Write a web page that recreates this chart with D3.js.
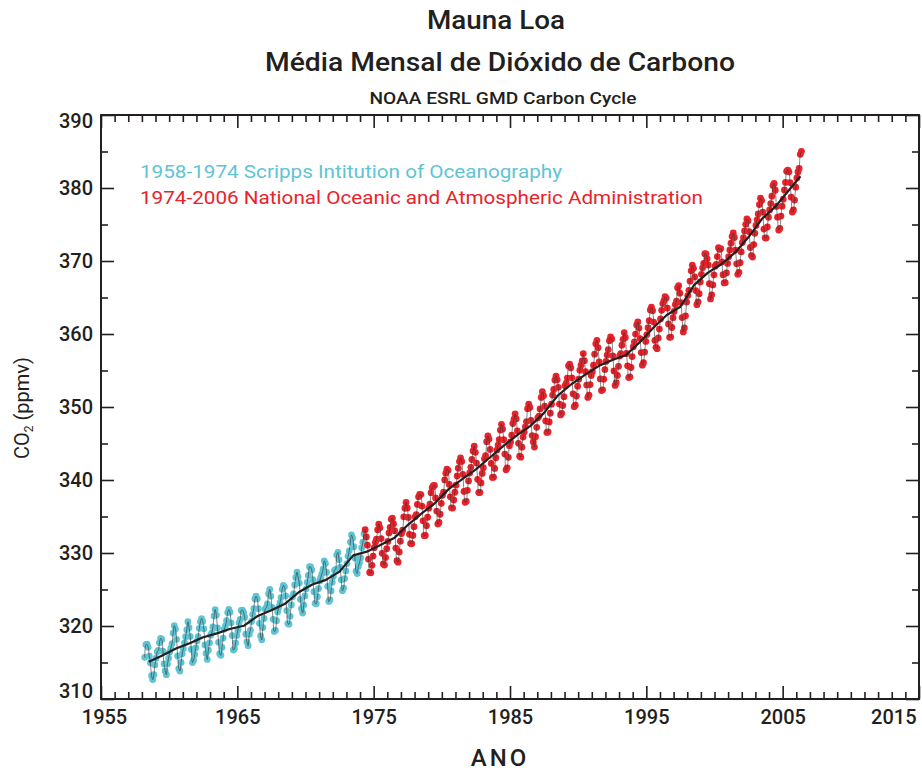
<!DOCTYPE html>
<html>
<head>
<meta charset="utf-8">
<script src="https://cdn.jsdelivr.net/npm/d3@7/dist/d3.min.js"></script>
<style>
  body { margin: 0; background: #fff; }
  svg { display: block; }
  text { font-family: Roboto, "DejaVu Sans", sans-serif; font-weight: 500; fill: #231f20; }
</style>
</head>
<body>
<svg id="chart" width="922" height="771"></svg>
<script>
// Monthly mean CO2 at Mauna Loa (ppmv)
// Scripps record: March 1958 – April 1974
const scrippsStart = [1958, 3];
const scrippsCO2 = [
  315.71, 317.45, 317.50, 317.10, 315.86, 314.93, 313.20, 312.66, 313.33, 314.67,
  315.58, 316.48, 316.65, 317.72, 318.29, 318.15, 316.54, 314.80, 313.84, 313.33, 314.81, 315.58,
  316.43, 316.98, 317.58, 319.03, 320.04, 319.58, 318.18, 315.90, 314.17, 313.83, 315.00, 316.19,
  316.89, 317.70, 318.54, 319.48, 320.58, 319.77, 318.57, 316.79, 314.99, 315.31, 316.10, 317.01,
  317.94, 318.55, 319.68, 320.57, 321.02, 320.62, 319.61, 317.40, 316.25, 315.42, 316.69, 317.70,
  318.74, 319.07, 319.86, 321.38, 322.25, 321.48, 319.74, 317.77, 316.21, 315.99, 317.07, 318.35,
  319.57, 320.01, 320.74, 321.84, 322.26, 321.89, 320.44, 318.69, 316.70, 316.87, 317.68, 318.71,
  319.44, 320.44, 320.89, 322.14, 322.17, 321.87, 321.21, 318.87, 317.81, 317.30, 318.87, 319.42,
  320.62, 321.60, 322.39, 323.70, 324.08, 323.75, 322.38, 320.36, 318.64, 318.10, 319.78, 321.03,
  322.33, 322.50, 323.04, 324.42, 325.00, 324.09, 322.54, 320.92, 319.25, 319.39, 320.73, 321.96,
  322.57, 323.15, 323.89, 325.02, 325.57, 325.36, 324.14, 322.11, 320.33, 320.25, 321.32, 322.89,
  324.00, 324.41, 325.63, 326.66, 327.38, 326.71, 325.88, 323.66, 322.38, 321.78, 322.86, 324.12,
  325.06, 325.98, 326.93, 328.13, 328.08, 327.67, 326.34, 324.69, 323.10, 323.06, 324.01, 325.13,
  326.17, 326.68, 327.17, 327.79, 328.93, 328.57, 327.36, 325.43, 323.36, 323.56, 324.80, 326.01,
  326.77, 327.63, 327.75, 329.72, 330.07, 329.09, 328.04, 326.32, 324.84, 325.20, 326.50, 327.55,
  328.55, 329.56, 330.30, 331.50, 332.48, 332.07, 330.87, 329.31, 327.51, 327.18, 328.16, 328.64,
  329.35, 330.71, 331.48, 332.65
];

// NOAA record: May 1974 – May 2006
const noaaStart = [1974, 5];
const noaaCO2 = [
  333.19, 332.20, 331.07, 329.15, 327.33, 327.28, 328.31, 329.58,
  330.73, 331.46, 331.90, 333.17, 333.94, 333.45, 331.98, 329.95, 328.50, 328.34, 329.37, 330.58,
  331.59, 332.75, 333.52, 334.64, 334.77, 334.00, 333.06, 330.68, 328.95, 328.75, 330.15, 331.62,
  332.66, 333.13, 334.95, 336.13, 336.93, 336.17, 334.88, 332.56, 331.29, 331.27, 332.41, 333.60,
  334.95, 335.25, 336.66, 337.69, 338.03, 338.01, 336.41, 334.41, 332.37, 332.41, 333.75, 334.90,
  336.14, 336.69, 338.27, 338.96, 339.21, 339.26, 337.54, 335.75, 333.98, 334.19, 335.31, 336.81,
  337.90, 338.34, 340.01, 340.93, 341.48, 341.33, 339.40, 337.70, 336.19, 336.15, 337.27, 338.32,
  339.29, 340.55, 341.61, 342.53, 343.03, 342.54, 340.78, 338.44, 336.95, 337.08, 338.58, 339.88,
  340.96, 341.73, 342.81, 343.97, 344.63, 343.79, 342.32, 340.09, 338.28, 338.29, 339.60, 340.90,
  341.68, 342.90, 343.33, 345.25, 346.03, 345.63, 344.19, 342.27, 340.35, 340.38, 341.59, 343.05,
  344.10, 344.79, 345.52, 346.84, 347.63, 346.98, 345.53, 343.55, 341.40, 341.67, 343.10, 344.70,
  345.21, 346.16, 347.74, 348.34, 349.06, 348.38, 346.72, 345.02, 343.27, 343.13, 344.49, 345.88,
  346.56, 347.28, 348.01, 349.77, 350.38, 349.93, 348.16, 346.08, 345.22, 344.51, 345.93, 347.21,
  348.52, 348.73, 349.73, 351.31, 352.09, 351.53, 350.11, 348.08, 346.52, 346.59, 347.96, 349.16,
  350.39, 351.64, 352.40, 353.69, 354.21, 353.72, 352.69, 350.40, 348.92, 349.13, 350.20, 351.41,
  352.91, 353.27, 353.96, 355.64, 355.86, 355.37, 353.99, 351.81, 350.05, 350.25, 351.49, 352.85,
  353.80, 355.04, 355.73, 356.32, 357.32, 356.34, 354.84, 353.01, 351.31, 351.62, 353.07, 354.33,
  354.84, 355.73, 357.23, 358.66, 359.13, 358.13, 356.19, 353.85, 352.25, 352.35, 353.81, 355.12,
  356.25, 357.11, 357.86, 359.09, 359.59, 359.33, 357.01, 354.94, 352.96, 353.32, 354.32, 355.57,
  357.00, 357.31, 358.47, 359.27, 360.19, 359.52, 357.33, 355.64, 354.03, 354.12, 355.41, 356.91,
  358.24, 358.92, 359.99, 361.23, 361.65, 360.81, 359.38, 357.46, 355.73, 356.07, 357.53, 358.98,
  359.92, 360.86, 361.83, 363.30, 363.69, 363.19, 361.64, 359.12, 358.17, 357.99, 359.45, 360.68,
  362.07, 363.24, 364.17, 364.57, 365.13, 364.92, 363.55, 361.38, 359.54, 359.58, 360.89, 362.24,
  363.09, 364.03, 364.51, 366.35, 366.64, 365.59, 364.31, 362.25, 360.29, 360.82, 362.49, 364.38,
  365.27, 365.98, 367.24, 368.66, 369.42, 368.99, 367.82, 365.95, 364.02, 364.40, 365.52, 367.13,
  368.18, 369.07, 369.68, 370.99, 370.96, 370.30, 369.45, 366.90, 364.81, 365.37, 366.72, 368.10,
  369.29, 369.54, 370.60, 371.82, 371.58, 371.70, 369.86, 368.13, 367.00, 367.03, 368.37, 369.67,
  370.59, 371.51, 372.43, 373.37, 373.85, 373.22, 371.50, 369.61, 368.18, 368.45, 369.76, 371.24,
  372.53, 373.20, 374.12, 375.02, 375.76, 375.52, 374.01, 371.85, 370.75, 370.55, 372.25, 373.79,
  374.88, 375.64, 376.45, 377.73, 378.60, 378.28, 376.70, 374.38, 373.17, 373.14, 374.66, 375.99,
  377.00, 377.87, 378.88, 380.35, 380.62, 379.69, 377.47, 376.01, 374.25, 374.46, 376.16, 377.51,
  378.46, 379.73, 380.77, 382.29, 382.45, 382.21, 380.74, 378.74, 376.70, 377.00, 378.35, 380.11,
  381.38, 382.19, 382.67, 384.61, 385.03
];

// Long-term trend (seasonal cycle removed), one value per year at mid-year
const trendYears = [1958.5, 1959.5, 1960.5, 1961.5, 1962.5, 1963.5, 1964.5, 1965.5, 1966.5, 1967.5,
  1968.5, 1969.5, 1970.5, 1971.5, 1972.5, 1973.5, 1974.5, 1975.5, 1976.5, 1977.5,
  1978.5, 1979.5, 1980.5, 1981.5, 1982.5, 1983.5, 1984.5, 1985.5, 1986.5, 1987.5,
  1988.5, 1989.5, 1990.5, 1991.5, 1992.5, 1993.5, 1994.5, 1995.5, 1996.5, 1997.5,
  1998.5, 1999.5, 2000.5, 2001.5, 2002.5, 2003.5, 2004.5, 2005.5, 2006.3];
const trendCO2 = [315.1, 315.97, 316.91, 317.64, 318.45, 318.99, 319.62, 320.04, 321.38, 322.16,
  323.04, 324.62, 325.68, 326.32, 327.45, 329.68, 330.18, 331.11, 332.04, 333.83,
  335.40, 336.84, 338.75, 340.11, 341.45, 343.05, 344.65, 346.12, 347.42, 349.19,
  351.57, 353.12, 354.39, 355.61, 356.45, 357.10, 358.83, 360.82, 362.61, 363.73,
  366.70, 368.38, 369.55, 371.14, 373.28, 375.80, 377.52, 379.80, 381.6];

const xMajorTicks = [1955, 1965, 1975, 1985, 1995, 2005, 2015];
const yMajorTicks = [310, 320, 330, 340, 350, 360, 370, 380, 390];

const titleLines = ["Mauna Loa", "Média Mensal de Dióxido de Carbono"];
const sourceLine = "NOAA ESRL GMD Carbon Cycle";
const legendLabels = [
  "1958-1974 Scripps Intitution of Oceanography",
  "1974-2006 National Oceanic and Atmospheric Administration"
];
const seriesColors = ["#5fc4d3", "#e8232b"];

// ---------- layout ----------
const W = 922, H = 771;
const margin = { top: 115, right: 3, bottom: 72, left: 101 };
const innerW = W - margin.left - margin.right;
const innerH = H - margin.top - margin.bottom;

const svg = d3.select("#chart");
const g = svg.append("g").attr("transform", `translate(${margin.left},${margin.top})`);

const x = d3.scaleLinear().domain([1955, 2015]).range([0, innerW]);
const y = d3.scaleLinear().domain([310, 390]).range([innerH, 0]);

// month index -> decimal year (month centre)
function toSeries(start, values) {
  return values.map((v, i) => {
    const m = start[1] - 1 + i;
    return { t: start[0] + Math.floor(m / 12) + ((m % 12) + 0.5) / 12, v };
  });
}
const scripps = toSeries(scrippsStart, scrippsCO2);
const noaa = toSeries(noaaStart, noaaCO2);
const allMonths = scripps.concat(noaa);
const trend = trendYears.map((t, i) => ({ t, v: trendCO2[i] }));

// ---------- axes (ticks point inward on all four sides) ----------
const minorYears = d3.range(1956, 2015).filter(d => d % 10 !== 5);
const minorCO2 = d3.range(315, 390, 10);

function styleAxis(sel) {
  sel.select(".domain").remove();
  sel.selectAll(".tick line").attr("stroke", "#231f20").attr("stroke-width", 1.6);
  sel.selectAll("text").style("font-size", "20px").attr("fill", "#231f20");
}

// bottom
const xAxisG = g.append("g").attr("transform", `translate(0,${innerH})`)
  .call(d3.axisBottom(x).tickValues(xMajorTicks).tickFormat(d3.format("d")).tickSize(-13).tickPadding(11));
styleAxis(xAxisG);
xAxisG.selectAll(".tick text").attr("dy", "0.71em");
xAxisG.selectAll(".tick").filter(d => d === 2015).select("text").attr("text-anchor", "end").attr("dx", -3);
xAxisG.selectAll(".tick").filter(d => d === 1955).select("text").attr("dx", 3);
g.append("g").attr("transform", `translate(0,${innerH})`)
  .call(d3.axisBottom(x).tickValues(minorYears).tickFormat("").tickSize(-7)).call(styleAxis);

// top
g.append("g").call(d3.axisTop(x).tickValues(xMajorTicks).tickFormat("").tickSize(-13)).call(styleAxis);
g.append("g").call(d3.axisTop(x).tickValues(minorYears).tickFormat("").tickSize(-7)).call(styleAxis);

// left
const yAxisG = g.append("g")
  .call(d3.axisLeft(y).tickValues(yMajorTicks).tickFormat(d3.format("d")).tickSize(-13).tickPadding(8));
styleAxis(yAxisG);
yAxisG.selectAll(".tick").filter(d => d === 390).select("text").attr("dy", "0.62em");
yAxisG.selectAll(".tick").filter(d => d === 310).select("text").attr("dy", "-0.1em");
g.append("g").call(d3.axisLeft(y).tickValues(minorCO2).tickFormat("").tickSize(-7)).call(styleAxis);

// right
g.append("g").attr("transform", `translate(${innerW},0)`)
  .call(d3.axisRight(y).tickValues(yMajorTicks).tickFormat("").tickSize(-13)).call(styleAxis);
g.append("g").attr("transform", `translate(${innerW},0)`)
  .call(d3.axisRight(y).tickValues(minorCO2).tickFormat("").tickSize(-7)).call(styleAxis);

// frame
g.append("rect").attr("width", innerW).attr("height", innerH)
  .attr("fill", "none").attr("stroke", "#231f20").attr("stroke-width", 2);

// ---------- data marks ----------
const dotR = 3.4;
g.append("g").selectAll("circle").data(scripps).join("circle")
  .attr("cx", d => x(d.t)).attr("cy", d => y(d.v)).attr("r", dotR).attr("fill", seriesColors[0]);
g.append("g").selectAll("circle").data(noaa).join("circle")
  .attr("cx", d => x(d.t)).attr("cy", d => y(d.v)).attr("r", dotR).attr("fill", seriesColors[1]);

const monthlyLine = d3.line().x(d => x(d.t)).y(d => y(d.v)).curve(d3.curveCatmullRom.alpha(0.5));
g.append("path").datum(allMonths).attr("d", monthlyLine)
  .attr("fill", "none").attr("stroke", "#333").attr("stroke-width", 0.8).attr("stroke-opacity", 0.75);

const trendLine = d3.line().x(d => x(d.t)).y(d => y(d.v));
g.append("path").datum(trend).attr("d", trendLine)
  .attr("fill", "none").attr("stroke", "#231f20").attr("stroke-width", 2.2).attr("stroke-linejoin", "round");

// ---------- legend ----------
const legendWidths = [422, 563];
const legend = svg.append("g");
legendLabels.forEach((label, i) => {
  legend.append("text")
    .attr("x", 140).attr("y", 178 + i * 26)
    .style("font-size", "18px").style("font-weight", 400)
    .attr("textLength", legendWidths[i]).attr("lengthAdjust", "spacingAndGlyphs")
    .style("fill", seriesColors[i])
    .text(label);
});

// ---------- titles ----------
svg.append("text").attr("x", 496).attr("y", 29).attr("text-anchor", "middle")
  .style("font-size", "26px").attr("textLength", 138).attr("lengthAdjust", "spacingAndGlyphs")
  .text(titleLines[0]);
svg.append("text").attr("x", 500).attr("y", 71).attr("text-anchor", "middle")
  .style("font-size", "26px").attr("textLength", 470).attr("lengthAdjust", "spacingAndGlyphs")
  .text(titleLines[1]);
svg.append("text").attr("x", 503).attr("y", 104).attr("text-anchor", "middle")
  .style("font-size", "17px").attr("textLength", 267).attr("lengthAdjust", "spacingAndGlyphs")
  .text(sourceLine);

// axis titles
svg.append("text").attr("x", 500).attr("y", 766).attr("text-anchor", "middle")
  .style("font-size", "24px").style("letter-spacing", "3px").text("ANO");

const yTitle = svg.append("text")
  .attr("transform", "translate(29,408) rotate(-90)")
  .attr("text-anchor", "middle").style("font-size", "20px").style("font-weight", 400);
yTitle.append("tspan").text("CO");
yTitle.append("tspan").attr("dy", 4).style("font-size", "12px").text("2");
yTitle.append("tspan").attr("dy", -4).text(" (ppmv)");
</script>
</body>
</html>
